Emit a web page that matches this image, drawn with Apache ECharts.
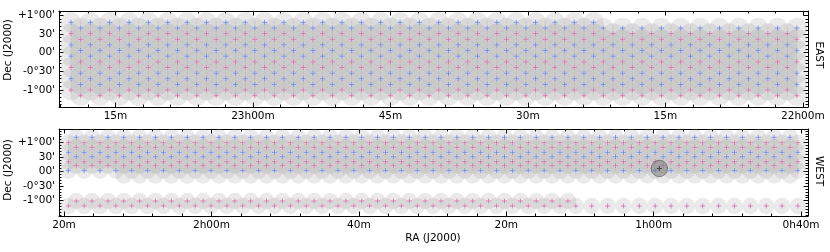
<!DOCTYPE html>
<html><head><meta charset="utf-8">
<script src="https://cdn.jsdelivr.net/npm/echarts@6/dist/echarts.min.js"></script>
<style>html,body{margin:0;padding:0;background:#fff}#c{width:830px;height:252px}</style>
</head><body><div id="c"></div>
<script>
// ---------- DATA (RA and Dec in degrees; RA = hours*15) ----------
// Pointing grid: columns start at RA start and step towards smaller RA.
// Each row: [dec, firstColumn, lastColumn, colour]  (every 2nd column, hexagonal pattern)
const eastColumnStart = 349.963, eastColumnStep = 0.2640;
const eastRows = [
  [0.810, 0, 54, 'B'],
  [0.657, 1, 75, 'B'],
  [0.507, 0, 74, 'R'],
  [0.354, 1, 75, 'R'],
  [0.204, 0, 74, 'B'],
  [0.051, 1, 75, 'B'],
  [-0.099, 0, 74, 'B'],
  [-0.252, 1, 75, 'R'],
  [-0.402, 0, 74, 'R'],
  [-0.555, 1, 75, 'B'],
  [-0.705, 0, 74, 'B'],
  [-0.858, 1, 75, 'B'],
  [-1.008, 0, 74, 'R'],
  [-1.161, 1, 75, 'R']
];
const westColumnStart = 34.855, westColumnStep = 0.269;
const westRows = [
  [1.178, 1, 91, 'B'],
  [0.992, 0, 92, 'R'],
  [0.834, 1, 91, 'R'],
  [0.662, 0, 92, 'B'],
  [0.511, 1, 91, 'B'],
  [0.339, 0, 92, 'R'],
  [0.200, 1, 91, 'R'],
  [0.029, 0, 92, 'B'],
  [-0.136, 7, 91, null],
  [-1.013, 1, 63, 'R'],
  [-1.185, 0, 92, 'R']
];
const westHighlight = [14.807, 0.105];
const beamRadius = 0.28;          // degrees

const eastRange = [329.86, 350.29, -1.462, 1.113];
const westRange = [9.765, 35.17, -1.53, 1.464];

const eastTickRA = [348.75, 345, 341.25, 337.5, 333.75, 330];
const eastTickLabels = ['15m', '23h00m', '45m', '30m', '15m', '22h00m'];
const westTickRA = [35, 30, 25, 20, 15, 10];
const westTickLabels = ['20m', '2h00m', '40m', '20m', '1h00m', '0h40m'];
const decTicks = [1, 0.5, 0, -0.5, -1];
const decTickLabels = ["+1°00'", "30'", "00'", "-0°30'", "-1°00'"];
const eastMinorStep = 0.75, westMinorStep = 1, decMinorStep = 0.1;

// ---------- BUILD ----------
function buildPoints(rows, start, step) {
  const all = [], blue = [], red = [];
  rows.forEach(([dec, c0, c1, col]) => {
    for (let i = c0; i <= c1; i += 2) {
      const p = [start - i * step, dec];
      all.push(p);
      if (col === 'B') blue.push(p); else if (col === 'R') red.push(p);
    }
  });
  return {all, blue, red};
}
const east = buildPoints(eastRows, eastColumnStart, eastColumnStep);
const west = buildPoints(westRows, westColumnStart, westColumnStep);

function minorValues(min, max, step) {
  const out = [];
  for (let k = Math.ceil(min / step - 1e-9); k * step <= max + 1e-9; k++) out.push(+(k * step).toFixed(4));
  return out;
}
function labelFor(v, vals, labels) {
  for (let i = 0; i < vals.length; i++) if (Math.abs(v - vals[i]) < 1e-6) return labels[i];
  return '';
}
const FONT = 'DejaVu Sans';
const labelStyle = {color: '#000', fontSize: 10.5, fontFamily: FONT};

function axesFor(dim, grid, min, max, majors, labels, minorStep, inverse) {
  const minors = minorValues(min, max, minorStep);
  const sides = dim === 'x' ? ['bottom', 'top'] : ['left', 'right'];
  const base = {gridIndex: grid, type: 'value', min, max, inverse, splitLine: {show: false}, axisPointer: {show: false}};
  const out = [];
  sides.forEach((pos, si) => {
    out.push(Object.assign({}, base, {
      position: pos,
      axisLine: {show: true, onZero: false, lineStyle: {color: '#000', width: 1}},
      axisTick: {show: true, inside: true, length: 4.5, customValues: majors, lineStyle: {color: '#000', width: 1}},
      axisLabel: si === 0 ? Object.assign({show: true, customValues: majors, margin: 4,
        formatter: v => labelFor(v, majors, labels)}, labelStyle) : {show: false}
    }));
    out.push(Object.assign({}, base, {
      position: pos,
      axisLine: {show: false, onZero: false},
      axisTick: {show: true, inside: true, length: 2.5, customValues: minors, lineStyle: {color: '#000', width: 1}},
      axisLabel: {show: false}
    }));
  });
  return out;
}

const xAxis = [].concat(
  axesFor('x', 0, eastRange[0], eastRange[1], eastTickRA, eastTickLabels, eastMinorStep, true),
  axesFor('x', 1, westRange[0], westRange[1], westTickRA, westTickLabels, westMinorStep, true)
);
const yAxis = [].concat(
  axesFor('y', 0, eastRange[2], eastRange[3], decTicks, decTickLabels, decMinorStep, false),
  axesFor('y', 1, westRange[2], westRange[3], decTicks, decTickLabels, decMinorStep, false)
);

function circleSeries(data, axisIdx, fill, stroke) {
  return {
    type: 'custom', xAxisIndex: axisIdx, yAxisIndex: axisIdx, clip: true, silent: true, animation: false,
    data,
    renderItem: (params, api) => {
      const c = api.coord([api.value(0), api.value(1)]);
      const s = api.size([beamRadius, beamRadius]);
      return {type: 'circle', shape: {cx: c[0], cy: c[1], r: (s[0] + s[1]) / 2},
        style: {fill, stroke: stroke || null, lineWidth: stroke ? 1 : 0}};
    }
  };
}
function crossSeries(data, axisIdx, color, half) {
  return {
    type: 'custom', xAxisIndex: axisIdx, yAxisIndex: axisIdx, clip: true, silent: true, animation: false,
    data,
    renderItem: (params, api) => {
      const c = api.coord([api.value(0), api.value(1)]);
      const st = {stroke: color, lineWidth: 1};
      return {type: 'group', children: [
        {type: 'line', shape: {x1: c[0] - half, y1: c[1], x2: c[0] + half, y2: c[1]}, style: st},
        {type: 'line', shape: {x1: c[0], y1: c[1] - half, x2: c[0], y2: c[1] + half}, style: st}
      ]};
    }
  };
}
const GRAY = 'rgba(150,150,150,0.2)';
const BLUE = 'rgba(75,105,240,0.62)';
const RED = 'rgba(215,75,150,0.62)';

const series = [
  circleSeries(east.all, 0, GRAY),
  circleSeries(west.all, 4, GRAY),
  crossSeries(east.blue, 0, BLUE, 2.5),
  crossSeries(east.red, 0, RED, 2.5),
  crossSeries(west.blue, 4, BLUE, 2.5),
  crossSeries(west.red, 4, RED, 2.5),
  circleSeries([westHighlight], 4, 'rgba(100,100,100,0.4)', 'rgba(80,80,80,0.6)'),
  crossSeries([westHighlight], 4, 'rgba(60,60,60,0.9)', 2.5)
];

const txt = (text, x, y, rot) => ({type: 'text', x, y, rotation: rot || 0, silent: true,
  style: {text, fill: '#000', font: '10.5px "DejaVu Sans"', align: 'center', verticalAlign: 'middle',
    textAlign: 'center', textVerticalAlign: 'middle'}});

const chart = echarts.init(document.getElementById('c'), null, {renderer: 'canvas'});
chart.setOption({
  animation: false,
  backgroundColor: '#fff',
  grid: [
    {left: 59, top: 11, width: 749, height: 96, containLabel: false, outerBoundsMode: 'none'},
    {left: 59, top: 129, width: 749, height: 87, containLabel: false, outerBoundsMode: 'none'}
  ],
  xAxis, yAxis, series,
  graphic: [
    txt('Dec (J2000)', 8, 50, Math.PI / 2),
    txt('Dec (J2000)', 8, 170, Math.PI / 2),
    txt('EAST', 818.5, 55, -Math.PI / 2),
    txt('WEST', 818.5, 171, -Math.PI / 2),
    txt('RA (J2000)', 433, 238.5, 0)
  ]
});
</script></body></html>
